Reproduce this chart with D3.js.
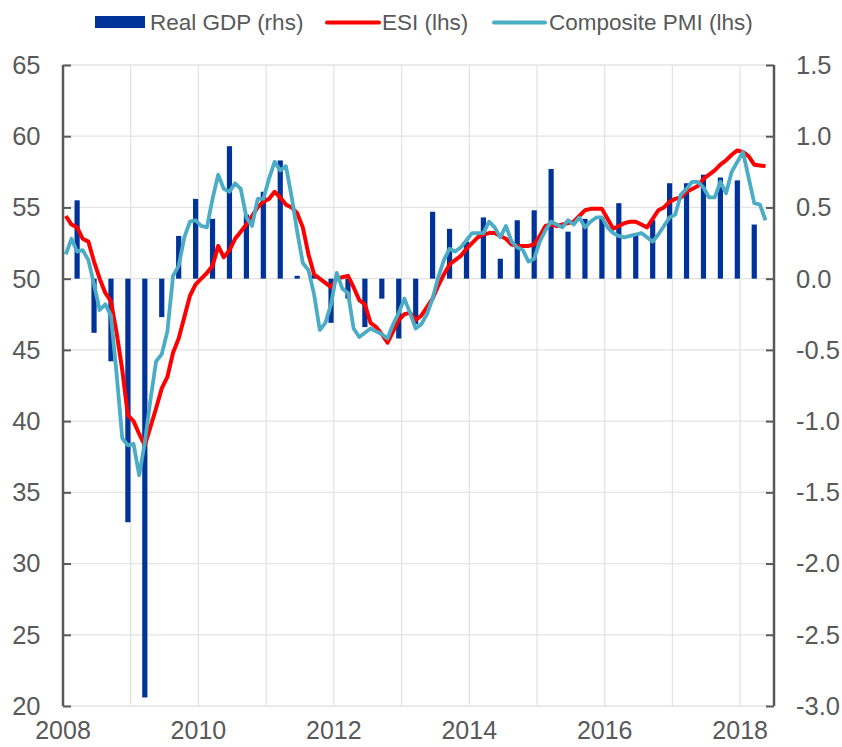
<!DOCTYPE html>
<html>
<head>
<meta charset="utf-8">
<script src="https://cdn.jsdelivr.net/npm/d3@7"></script>
<style>
  body { margin: 0; background: #fff; }
  svg { font-family: "Liberation Sans", Arial, sans-serif; }
  .grid line { stroke: #e3e3e3; stroke-width: 1.3; }
  .tick-label { fill: #595959; font-size: 25.5px; }
  .legend-text { fill: #595959; font-size: 22.5px; }
</style>
</head>
<body>
<svg width="842" height="747"></svg>
<script>
// monthly data start Jan 2008, quarterly GDP start 2008Q1
const yearLabels = ['2008', '2010', '2012', '2014', '2016', '2018'];
const leftTicks = [20, 25, 30, 35, 40, 45, 50, 55, 60, 65];
const rightTicks = [-3.0, -2.5, -2.0, -1.5, -1.0, -0.5, 0.0, 0.5, 1.0, 1.5];

const gdp = [
  0.55, -0.38, -0.58, -1.71,
  -2.94, -0.27, 0.30, 0.56,
  0.42, 0.93, 0.45, 0.61,
  0.83, 0.02, 0.03, -0.31,
  -0.14, -0.34, -0.14, -0.42,
  -0.32, 0.47, 0.35, 0.26,
  0.43, 0.14, 0.41, 0.48,
  0.77, 0.33, 0.42, 0.43,
  0.53, 0.32, 0.41, 0.67,
  0.67, 0.73, 0.71, 0.69,
  0.38
];

const esi = [
  54.4, 53.8, 53.6, 52.8, 52.6, 51.2, 50.0, 49.0, 48.4, 46.2, 43.6, 40.4,
  40.0, 39.1, 38.3, 39.6, 40.9, 42.3, 43.1, 44.8, 45.8, 47.3, 48.8, 49.6,
  50.0, 50.4, 50.9, 52.3, 51.5, 52.0, 52.8, 53.3, 53.8, 54.4, 55.0, 55.4,
  55.6, 56.1, 55.7, 55.2, 55.0, 54.6, 53.6, 51.7, 50.3, 50.0, 49.7, 49.4,
  50.0, 50.1, 50.2, 49.4, 48.5, 48.2, 46.9, 46.6, 46.1, 45.5, 46.3, 47.1,
  47.5, 47.6, 47.1, 47.4, 48.0, 48.6, 49.5, 50.3, 51.0, 51.3, 51.6, 52.1,
  52.5, 52.9, 53.1, 53.2, 53.2, 53.0, 52.8, 52.4, 52.3, 52.3, 52.3, 52.4,
  53.0, 53.7, 53.8, 53.7, 53.8, 53.9, 54.0, 54.4, 54.8, 54.9, 54.9, 54.9,
  54.2, 53.5, 53.7, 53.9, 54.0, 54.0, 53.8, 53.6, 54.2, 54.8, 55.0, 55.4,
  55.6, 55.7, 56.1, 56.3, 56.5, 57.0, 57.3, 57.6, 58.0, 58.3, 58.7, 59.0,
  58.9, 58.6, 58.0, 57.95, 57.9
];

const pmi = [
  51.7, 52.8, 51.9, 52.0, 51.3, 49.6, 47.8, 48.2, 47.4, 43.3, 38.8, 38.3,
  38.4, 36.2, 38.5, 41.5, 44.2, 44.7, 46.3, 50.2, 50.9, 52.9, 54.0, 54.1,
  53.7, 53.6, 55.6, 57.3, 56.3, 56.1, 56.7, 56.3, 54.3, 53.7, 55.6, 55.6,
  57.0, 58.2, 57.6, 57.9, 55.8, 53.3, 51.1, 50.6, 48.9, 46.4, 46.9, 48.2,
  50.4, 49.3, 49.0, 46.5, 45.9, 46.2, 46.5, 46.3, 46.1, 45.8, 46.8, 47.6,
  48.6, 47.6, 46.5, 46.8, 47.5, 48.6, 50.1, 51.3, 52.1, 51.9, 52.2, 52.7,
  53.2, 53.2, 53.2, 54.0, 53.6, 52.9, 53.7, 52.6, 52.2, 52.0, 51.2, 51.4,
  52.6, 53.4, 54.0, 53.8, 53.6, 54.1, 53.8, 54.3, 53.6, 54.0, 54.3, 54.3,
  53.6, 53.2, 53.0, 52.9, 53.0, 53.1, 53.2, 52.9, 52.6, 53.1, 53.7, 54.3,
  54.5, 55.9, 56.3, 56.8, 56.8, 56.4, 55.7, 55.7, 56.8, 56.0, 57.5, 58.2,
  58.9, 57.1, 55.3, 55.2, 54.1
];

const nMonths = 126; // Jan 2008 - Jun 2018

function whenLoaded() {
const svg = d3.select('svg');
const margin = {left: 63, right: 68, top: 65, bottom: 41};
const width = 842 - margin.left - margin.right;
const height = 747 - margin.top - margin.bottom;

const x = d3.scaleLinear().domain([0, nMonths]).range([0, width]);
const yL = d3.scaleLinear().domain([20, 65]).range([height, 0]);
const yR = d3.scaleLinear().domain([-3, 1.5]).range([height, 0]);

const g = svg.append('g')
    .attr('transform', `translate(${margin.left},${margin.top})`);

// grid
const grid = g.append('g').attr('class', 'grid');
grid.selectAll('.hg').data(leftTicks)
  .enter().append('line')
    .attr('x1', 0).attr('x2', width)
    .attr('y1', d => yL(d)).attr('y2', d => yL(d));
grid.selectAll('.vg').data(d3.range(12, nMonths, 12))
  .enter().append('line')
    .attr('x1', d => x(d)).attr('x2', d => x(d))
    .attr('y1', 0).attr('y2', height);

// GDP bars
const barW = 5.2;
g.selectAll('rect.gdp').data(gdp)
  .enter().append('rect')
    .attr('class', 'gdp')
    .attr('x', (d, i) => x(i * 3 + 2.5) - barW / 2)
    .attr('width', barW)
    .attr('y', d => yR(Math.max(0, d)))
    .attr('height', d => Math.abs(yR(d) - yR(0)))
    .attr('fill', '#003399');

const lineL = d3.line()
  .x((d, i) => x(i + 0.5))
  .y(d => yL(d));

g.append('path')
  .datum(esi)
  .attr('d', lineL)
  .attr('fill', 'none')
  .attr('stroke', '#ff0000')
  .attr('stroke-width', 4)
  .attr('stroke-linejoin', 'round');

g.append('path')
  .datum(pmi)
  .attr('d', lineL)
  .attr('fill', 'none')
  .attr('stroke', '#4bacc6')
  .attr('stroke-width', 3.8)
  .attr('stroke-linejoin', 'round');

// axes
const leftAxis = d3.axisRight(yL).tickValues(leftTicks).tickSize(8).tickFormat('');
const la = g.append('g').call(leftAxis);
la.select('.domain').remove();
la.selectAll('.tick line').attr('stroke', '#595959').attr('stroke-width', 2);
g.append('line')
  .attr('x1', 0).attr('x2', 0).attr('y1', 0).attr('y2', height)
  .attr('stroke', '#595959').attr('stroke-width', 2.5);

const rightAxis = d3.axisLeft(yR).tickValues(rightTicks).tickSize(8).tickFormat('');
const ra = g.append('g').attr('transform', `translate(${width},0)`).call(rightAxis);
ra.select('.domain').remove();
ra.selectAll('.tick line').attr('stroke', '#595959').attr('stroke-width', 2);
g.append('line')
  .attr('x1', width).attr('x2', width).attr('y1', 0).attr('y2', height)
  .attr('stroke', '#595959').attr('stroke-width', 2.5);

// tick labels
g.selectAll('.lt').data(leftTicks)
  .enter().append('text')
    .attr('class', 'tick-label')
    .attr('x', -22.5)
    .attr('y', d => yL(d))
    .attr('dy', '0.35em')
    .attr('text-anchor', 'end')
    .text(d => d);

g.selectAll('.rt').data(rightTicks)
  .enter().append('text')
    .attr('class', 'tick-label')
    .attr('x', width + 22)
    .attr('y', d => yR(d))
    .attr('dy', '0.35em')
    .text(d => d.toFixed(1));

g.selectAll('.xt').data(yearLabels)
  .enter().append('text')
    .attr('class', 'tick-label')
    .attr('x', (d, i) => x(i * 24))
    .attr('y', height + 33)
    .attr('text-anchor', 'middle')
    .style('font-size', '25px')
    .text(d => d);

// legend
const legend = svg.append('g');
legend.append('rect')
  .attr('x', 95).attr('y', 16).attr('width', 50).attr('height', 12)
  .attr('fill', '#003399');
legend.append('text').attr('class', 'legend-text')
  .attr('x', 150).attr('y', 30).text('Real GDP (rhs)');
legend.append('line')
  .attr('x1', 327).attr('x2', 379).attr('y1', 22.5).attr('y2', 22.5)
  .attr('stroke', '#ff0000').attr('stroke-width', 4).attr('stroke-linecap', 'round');
legend.append('text').attr('class', 'legend-text')
  .attr('x', 382).attr('y', 30).text('ESI (lhs)');
legend.append('line')
  .attr('x1', 494).attr('x2', 545).attr('y1', 22.5).attr('y2', 22.5)
  .attr('stroke', '#4bacc6').attr('stroke-width', 4).attr('stroke-linecap', 'round');
legend.append('text').attr('class', 'legend-text')
  .attr('x', 549).attr('y', 30).text('Composite PMI (lhs)');
}

window.onload = whenLoaded;
</script>
</body>
</html>
